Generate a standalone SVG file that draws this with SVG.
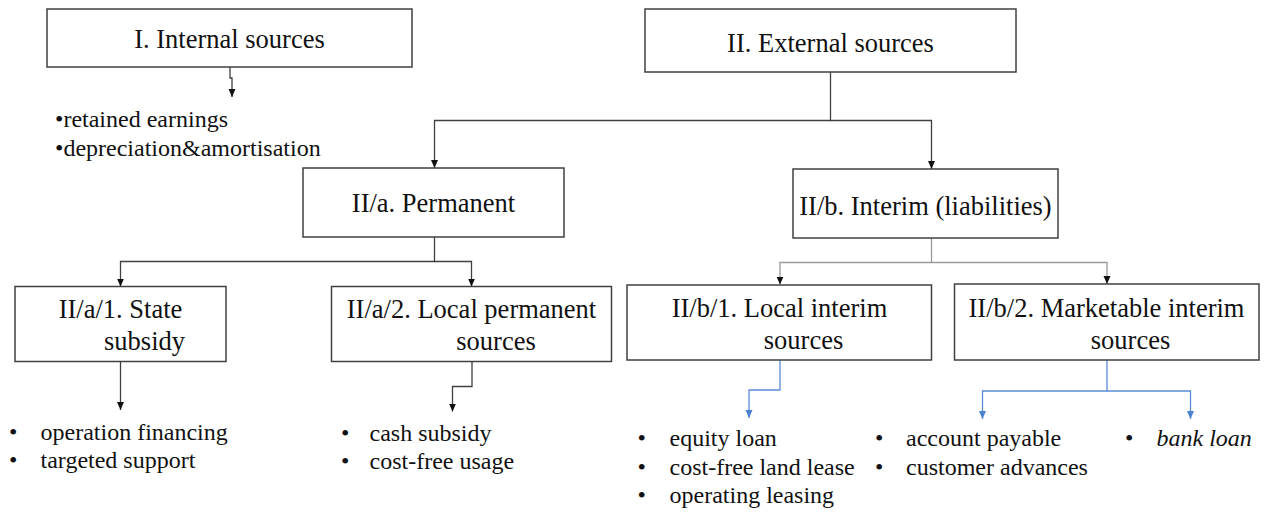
<svg xmlns="http://www.w3.org/2000/svg" width="1265" height="513" viewBox="0 0 1265 513">
<style>
.box{fill:#fff;stroke:#404040;stroke-width:1.5}
.lbl{font-family:"Liberation Serif","Times New Roman",serif;font-size:26.5px;fill:#111}
.bul{font-family:"Liberation Serif","Times New Roman",serif;font-size:24px;fill:#111}
.c{fill:none;stroke:#404040;stroke-width:1.3}
.cg{fill:none;stroke:#9a9a9a;stroke-width:1.3}
.cb{fill:none;stroke:#5b8bd6;stroke-width:1.3}
</style>
<defs>
<marker id="ak" markerUnits="userSpaceOnUse" markerWidth="8" markerHeight="8" refX="8" refY="3.5" orient="auto"><path d="M0,0 L8,3.5 L0,7 z" fill="#111"/></marker>
<marker id="ab" markerUnits="userSpaceOnUse" markerWidth="8" markerHeight="8" refX="8" refY="3.5" orient="auto"><path d="M0,0 L8,3.5 L0,7 z" fill="#4a7fd4"/></marker>
</defs>
<rect width="1265" height="513" fill="#fff"/>
<g id="connectors">
<path class="c" d="M230,67 V78 H232 V97" marker-end="url(#ak)"/>
<path class="c" d="M830.5,72 V120.5 H434.5 V168" marker-end="url(#ak)"/>
<path class="c" d="M830.5,120.5 H931.5 V169" marker-end="url(#ak)"/>
<path class="c" d="M434.5,237 V261.5 H120.5 V286.5" marker-end="url(#ak)"/>
<path class="c" d="M434.5,261.5 H471.5 V286.5" marker-end="url(#ak)"/>
<path class="cg" d="M931.5,238 V262.5 H780 V284.5" marker-end="url(#ak)"/>
<path class="cg" d="M931.5,262.5 H1107 V284" marker-end="url(#ak)"/>
<path class="c" d="M120.5,362 V410" marker-end="url(#ak)"/>
<path class="c" d="M472,362 V386.5 H452.5 V411.5" marker-end="url(#ak)"/>
<path class="cb" d="M780,360 V390 H749 V418" marker-end="url(#ab)"/>
<path class="cb" d="M1107,360 V391 H982.5 V419" marker-end="url(#ab)"/>
<path class="cb" d="M1107,391 H1190.5 V419" marker-end="url(#ab)"/>
</g>
<g id="n-internal">
<rect class="box" x="47" y="9" width="365" height="58"/>
<text class="lbl" x="229.5" y="48" text-anchor="middle">I. Internal sources</text>
</g>
<g id="n-internal-items">
<text class="bul" x="55" y="127">•retained earnings</text>
<text class="bul" x="55" y="156">•depreciation&amp;amortisation</text>
</g>
<g id="n-external">
<rect class="box" x="645" y="9" width="371" height="63"/>
<text class="lbl" x="830.5" y="52" text-anchor="middle">II. External sources</text>
</g>
<g id="n-permanent">
<rect class="box" x="303" y="168" width="261" height="69"/>
<text class="lbl" x="433.5" y="212" text-anchor="middle">II/a. Permanent</text>
</g>
<g id="n-interim">
<rect class="box" x="793" y="169" width="265" height="69"/>
<text class="lbl" x="925.5" y="215" text-anchor="middle">II/b. Interim (liabilities)</text>
</g>
<g id="n-state">
<rect class="box" x="15" y="286.5" width="211" height="75"/>
<text class="lbl" x="120.5" y="318" text-anchor="middle">II/a/1. State</text>
<text class="lbl" x="144.5" y="350" text-anchor="middle">subsidy</text>
</g>
<g id="n-localperm">
<rect class="box" x="331.5" y="286.5" width="280" height="75"/>
<text class="lbl" x="471.5" y="318" text-anchor="middle">II/a/2. Local permanent</text>
<text class="lbl" x="496" y="350" text-anchor="middle">sources</text>
</g>
<g id="n-localint">
<rect class="box" x="627" y="285" width="304.5" height="75"/>
<text class="lbl" x="779.5" y="317" text-anchor="middle">II/b/1. Local interim</text>
<text class="lbl" x="803.5" y="349" text-anchor="middle">sources</text>
</g>
<g id="n-market">
<rect class="box" x="954.5" y="284" width="304.5" height="76"/>
<text class="lbl" x="1106.5" y="317" text-anchor="middle">II/b/2. Marketable interim</text>
<text class="lbl" x="1130.5" y="349" text-anchor="middle">sources</text>
</g>
<g id="n-state-items">
<text class="bul" x="9" y="440">•</text><text class="bul" x="40.5" y="440">operation financing</text>
<text class="bul" x="9" y="468">•</text><text class="bul" x="40.5" y="468">targeted support</text>
</g>
<g id="n-localperm-items">
<text class="bul" x="341" y="441">•</text><text class="bul" x="369.5" y="441">cash subsidy</text>
<text class="bul" x="341" y="469">•</text><text class="bul" x="369.5" y="469">cost-free usage</text>
</g>
<g id="n-localint-items">
<text class="bul" x="637.5" y="446">•</text><text class="bul" x="669.5" y="446">equity loan</text>
<text class="bul" x="637.5" y="475">•</text><text class="bul" x="669.5" y="475">cost-free land lease</text>
<text class="bul" x="637.5" y="503">•</text><text class="bul" x="669.5" y="503">operating leasing</text>
</g>
<g id="n-market-items">
<text class="bul" x="875" y="446">•</text><text class="bul" x="906" y="446">account payable</text>
<text class="bul" x="875" y="475">•</text><text class="bul" x="906" y="475">customer advances</text>
<text class="bul" x="1125" y="446">•</text><text class="bul" x="1156.5" y="446" font-style="italic">bank loan</text>
</g>
</svg>
